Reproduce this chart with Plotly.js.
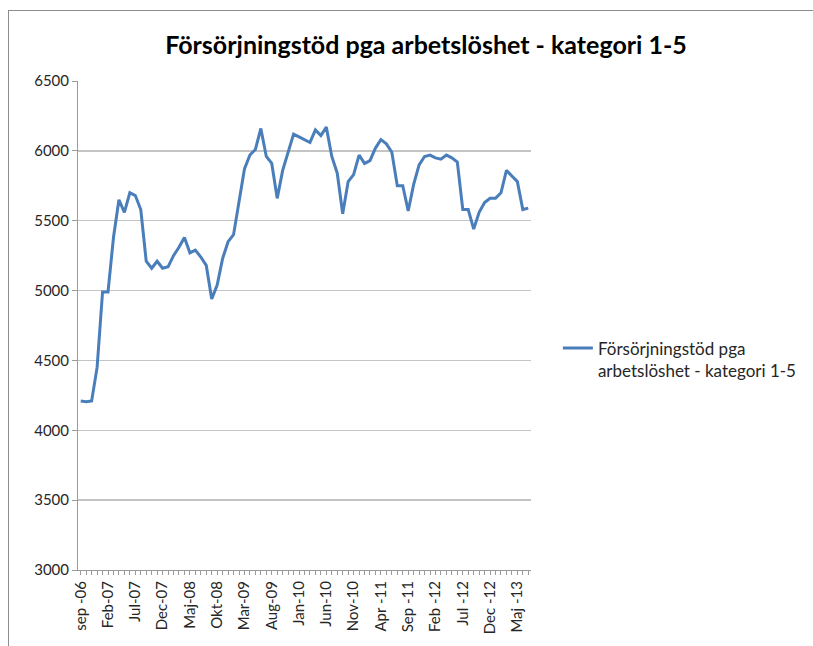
<!DOCTYPE html>
<html>
<head>
<meta charset="utf-8">
<script src="https://cdn.plot.ly/plotly-3.0.1.min.js"></script>
<style>
  html, body { margin: 0; padding: 0; background: #ffffff; }
  #wrap { position: relative; width: 813px; height: 646px; overflow: hidden; }
  #chart { position: absolute; left: 0; top: 0; width: 813px; height: 646px; }
  #frame { position: absolute; left: 8px; top: 10px; width: 820px; height: 660px;
           border: 1px solid #8c8c8c; box-sizing: border-box; pointer-events: none; }
</style>
</head>
<body>
<div id="wrap">
  <div id="chart"></div>
  <div id="frame"></div>
</div>
<script>
// Monthly categories, sep 2006 – jul 2013
const months = [
  "sep -06","Okt-06","Nov-06","Dec-06",
  "Jan-07","Feb-07","Mar-07","Apr-07","Maj-07","Jun-07","Jul-07","Aug-07","Sep-07","Okt-07","Nov-07","Dec-07",
  "Jan-08","Feb-08","Mar-08","Apr-08","Maj-08","Jun-08","Jul-08","Aug-08","Sep-08","Okt-08","Nov-08","Dec-08",
  "Jan-09","Feb-09","Mar-09","Apr-09","Maj-09","Jun-09","Jul-09","Aug-09","Sep-09","Okt-09","Nov-09","Dec-09",
  "Jan-10","Feb-10","Mar-10","Apr-10","Maj-10","Jun-10","Jul-10","Aug-10","Sep-10","Okt-10","Nov-10","Dec-10",
  "Jan-11","Feb-11","Mar-11","Apr -11","Maj-11","Jun-11","Jul-11","Aug-11","Sep -11","Okt-11","Nov-11","Dec-11",
  "Jan-12","Feb -12","Mar-12","Apr-12","Maj-12","Jun-12","Jul -12","Aug-12","Sep-12","Okt-12","Nov-12","Dec -12",
  "Jan-13","Feb-13","Mar-13","Apr-13","Maj -13","Jun-13","Jul-13"
];

// Series values
const values = [
  4210, 4205, 4210, 4450,
  4990, 4990, 5380, 5650, 5560, 5700, 5680, 5580, 5210, 5160, 5210, 5160,
  5170, 5250, 5310, 5380, 5270, 5290, 5240, 5180, 4940, 5040, 5230, 5350,
  5400, 5620, 5870, 5970, 6010, 6160, 5960, 5910, 5660, 5860, 6000, 6120,
  6100, 6080, 6060, 6150, 6110, 6170, 5960, 5840, 5550, 5780, 5830, 5970,
  5910, 5930, 6020, 6080, 6050, 5990, 5750, 5750, 5570, 5760, 5900, 5960,
  5970, 5950, 5940, 5970, 5950, 5920, 5580, 5580, 5440, 5560, 5630, 5660,
  5660, 5700, 5860, 5820, 5780, 5580, 5590
];

// Labelled ticks on the x axis
const tickLabels = [
  "sep -06","Feb-07","Jul-07","Dec-07","Maj-08","Okt-08","Mar-09","Aug-09","Jan-10",
  "Jun-10","Nov-10","Apr -11","Sep -11","Feb -12","Jul -12","Dec -12","Maj -13"
];

const yTicks = [3000, 3500, 4000, 4500, 5000, 5500, 6000, 6500];

const seriesName = "Försörjningstöd pga<br>arbetslöshet - kategori 1-5";
const titleText = "Försörjningstöd pga arbetslöshet - kategori 1-5";

const ticktext = months.map(m => tickLabels.includes(m) ? m : "");

const font = "Lato, 'Open Sans', sans-serif";
const textColor = "#262626";

const trace = {
  type: "scatter",
  mode: "lines",
  x: months,
  y: values,
  name: seriesName,
  line: { color: "#4a7ebb", width: 3 },
  showlegend: true
};

const layout = {
  width: 813,
  height: 646,
  paper_bgcolor: "#ffffff",
  plot_bgcolor: "#ffffff",
  margin: { l: 78, r: 281, t: 81, b: 76 },
  font: { family: font, size: 15, color: textColor },
  title: {
    text: "<b>" + titleText + "</b>",
    font: { family: font, size: 25, color: "#000000" },
    x: 0.524, xanchor: "center",
    y: 0.93, yanchor: "middle"
  },
  xaxis: {
    type: "category",
    categoryorder: "array",
    categoryarray: months,
    range: [-0.5, months.length - 0.5],
    tickmode: "array",
    tickvals: months,
    ticktext: ticktext,
    tickangle: -90,
    ticks: "outside",
    ticklen: 4,
    tickcolor: "#9a9a9a",
    tickfont: { family: font, size: 15, color: textColor },
    showgrid: false,
    showline: true,
    linecolor: "#9a9a9a",
    linewidth: 1,
    zeroline: false,
    fixedrange: true
  },
  yaxis: {
    range: [3000, 6500],
    tickmode: "array",
    tickvals: yTicks,
    ticktext: yTicks.map(String),
    ticks: "outside",
    ticklen: 5,
    tickcolor: "#9a9a9a",
    tickfont: { family: font, size: 15, color: textColor },
    showgrid: true,
    gridcolor: "#c4c4c4",
    gridwidth: 1.3,
    showline: true,
    linecolor: "#9a9a9a",
    linewidth: 1,
    zeroline: false,
    fixedrange: true
  },
  legend: {
    x: 1.057, xanchor: "left",
    y: 0.49, yanchor: "top",
    valign: "top",
    font: { family: font, size: 17, color: textColor },
    bgcolor: "rgba(0,0,0,0)",
    itemwidth: 30
  },
  showlegend: true
};

Plotly.newPlot("chart", [trace], layout, { staticPlot: true, displayModeBar: false });
</script>
</body>
</html>
